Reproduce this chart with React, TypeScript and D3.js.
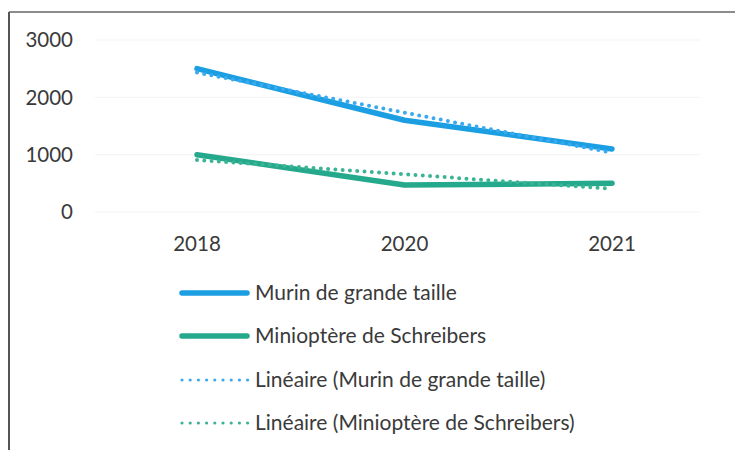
import React from "react";
import * as d3 from "d3";

const years = ["2018", "2020", "2021"];
const murin = [2500, 1600, 1100];
const minioptere = [1000, 470, 500];
const yTicks = [0, 1000, 2000, 3000];
const seriesNames = ["Murin de grande taille", "Miniopt\u00e8re de Schreibers"];
const trendNames = ["Lin\u00e9aire (Murin de grande taille)", "Lin\u00e9aire (Miniopt\u00e8re de Schreibers)"];

const BLUE = "#1c9fe2";
const GREEN = "#25a98c";
const BLUE_DOT = "#3aaaf0";
const GREEN_DOT = "#3bb394";

function linearTrend(vals: number[]): number[] {
  const xs = vals.map((_, i) => i);
  const mx = d3.mean(xs) as number;
  const my = d3.mean(vals) as number;
  let num = 0, den = 0;
  xs.forEach((x, i) => { num += (x - mx) * (vals[i] - my); den += (x - mx) ** 2; });
  const slope = num / den;
  const b = my - slope * mx;
  return xs.map((x) => b + slope * x);
}

export default function App() {
  const W = 735, H = 450;
  const x = d3.scalePoint<string>().domain(years).range([197, 612]);
  const y = d3.scaleLinear().domain([0, 3000]).range([212, 40]);
  const line = d3.line<number>().x((_, i) => x(years[i]) as number).y((d) => y(d));
  const tMurin = linearTrend(murin);
  const tMini = linearTrend(minioptere);
  const font = "Lato, 'Open Sans', sans-serif";
  const textColor = "#3a3a3a";

  const legend = [
    { name: seriesNames[0], color: BLUE, dotted: false },
    { name: seriesNames[1], color: GREEN, dotted: false },
    { name: trendNames[0], color: BLUE_DOT, dotted: true },
    { name: trendNames[1], color: GREEN_DOT, dotted: true },
  ];
  const legendY = [293, 336, 380, 423];

  return (
    <svg width={W} height={H} style={{ position: "absolute", left: 0, top: 0, background: "#fff" }}>
      <rect x={0} y={0} width={W} height={H} fill="#fff" />
      <line x1={9} x2={W} y1={12} y2={12} stroke="#666" strokeWidth={1.5} />
      <line x1={9} x2={9} y1={12} y2={H} stroke="#555" strokeWidth={2} />
      {yTicks.map((t) => (
        <g key={t}>
          <line x1={95} x2={700} y1={y(t)} y2={y(t)} stroke="#f3f3f3" strokeWidth={1} />
          <text x={73} y={y(t)} dy="0.35em" textAnchor="end" fontFamily={font} fontSize={20.5} fill={textColor}>{t}</text>
        </g>
      ))}
      {years.map((yr) => (
        <text key={yr} x={x(yr) as number} y={251} textAnchor="middle" fontFamily={font} fontSize={20.5} fill={textColor}>{yr}</text>
      ))}
      <path d={line(murin) as string} fill="none" stroke={BLUE} strokeWidth={5.5} strokeLinecap="round" strokeLinejoin="round" />
      <path d={line(minioptere) as string} fill="none" stroke={GREEN} strokeWidth={5.5} strokeLinecap="round" strokeLinejoin="round" />
      <path d={line(tMurin) as string} fill="none" stroke={BLUE_DOT} strokeWidth={4} strokeDasharray="0 7.3" strokeLinecap="round" />
      <path d={line(tMini) as string} fill="none" stroke={GREEN_DOT} strokeWidth={4} strokeDasharray="0 7.3" strokeLinecap="round" />
      {legend.map((l, i) => (
        <g key={l.name}>
          {l.dotted ? (
            <line x1={182} x2={248} y1={legendY[i]} y2={legendY[i]} stroke={l.color} strokeWidth={3.2} strokeDasharray="0 8.2" strokeLinecap="round" />
          ) : (
            <line x1={182} x2={247} y1={legendY[i]} y2={legendY[i]} stroke={l.color} strokeWidth={5.5} strokeLinecap="round" />
          )}
          <text x={255} y={legendY[i]} dy="0.35em" fontFamily={font} fontSize={21} fill={textColor}>{l.name}</text>
        </g>
      ))}
    </svg>
  );
}
